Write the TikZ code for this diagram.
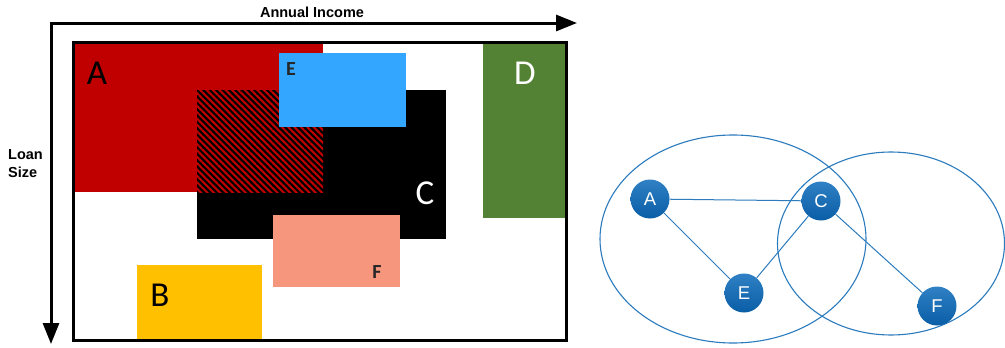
\documentclass[tikz,border=0pt]{standalone}
\usepackage{fontspec}
\setmainfont{Liberation Sans}
\newfontfamily\carlito{Carlito}
\usetikzlibrary{arrows.meta,patterns.meta}
\definecolor{cA}{HTML}{C00000}
\definecolor{cB}{HTML}{FFC000}
\definecolor{cD}{HTML}{548235}
\definecolor{cE}{HTML}{33A6FF}
\definecolor{cF}{HTML}{F6967C}
\definecolor{ecol}{HTML}{2B7BBD}
\definecolor{ntop}{HTML}{2F80C4}
\definecolor{nbot}{HTML}{0A5EA6}
\tikzset{
  biglbl/.style={font=\carlito\fontsize{35}{35}\selectfont, inner sep=0pt},
  smalllbl/.style={font=\carlito\bfseries\fontsize{20}{20}\selectfont, text=black!85, inner sep=0pt},
  axis/.style={line width=3pt, line join=miter, {Triangle[length=21pt,width=16pt]}-{Triangle[length=21pt,width=16pt]}},
  gn/.style={circle, minimum size=39pt, inner sep=0pt, top color=ntop, bottom color=nbot, draw=none, text=white, font=\fontsize{18.5}{18.5}\selectfont},
  gedge/.style={draw=ecol, line width=1pt},
  setell/.style={draw=ecol, line width=1.1pt}
}
\begin{document}
\begin{tikzpicture}[x=1pt,y=-1pt]
\useasboundingbox (0,0) rectangle (1005,348);
% regions
\fill[cA] (73,42) rectangle (323,192);
\fill[black] (197,90) rectangle (446,239);
\fill[pattern={Lines[angle=-45,distance=4.5pt,line width=2.1pt]}, pattern color=cA] (197,90) rectangle (323,192);
\fill[cE] (279,53) rectangle (406,127);
\fill[cF] (273,215) rectangle (400,287);
\fill[cD] (483,43) rectangle (565,218);
\fill[cB] (137,265) rectangle (262,340);
\draw[line width=3pt] (73,42) rectangle (566,340);
% labels
\node[biglbl, text=black] (lA) at (97,73) {A};
\node[biglbl, text=black] (lB) at (160,295) {B};
\node[biglbl, text=white] (lC) at (425,193) {C};
\node[biglbl, text=white] (lD) at (525,73) {D};
\node[smalllbl] (lE) at (291,69) {E};
\node[smalllbl] (lF) at (377,272) {F};
% axes
\coordinate (o) at (51,23);
\coordinate (xe) at (577,23);
\coordinate (ye) at (51,344);
\draw[axis] (ye) -- (o) -- (xe);
\node[font=\bfseries\fontsize{14.5}{14.5}\selectfont] (xl) at (312,12) {Annual Income};
\node[font=\bfseries\fontsize{14.5}{18}\selectfont, align=left, anchor=west, inner sep=0pt] (yl) at (8,164) {Loan\\Size};
% graph
\draw[setell] (733,239) ellipse [x radius=133, y radius=104];
\draw[setell] (891,243.5) ellipse [x radius=113.5, y radius=91.5];
\node[gn] (nA) at (650,199) {A};
\node[gn] (nC) at (821,201) {C};
\node[gn] (nE) at (744,293) {E};
\node[gn] (nF) at (937,306) {F};
\draw[gedge] (nA) -- (nC);
\draw[gedge] (nA) -- (nE);
\draw[gedge] (nC) -- (nE);
\draw[gedge] (nC) -- (nF);
\end{tikzpicture}
\end{document}
